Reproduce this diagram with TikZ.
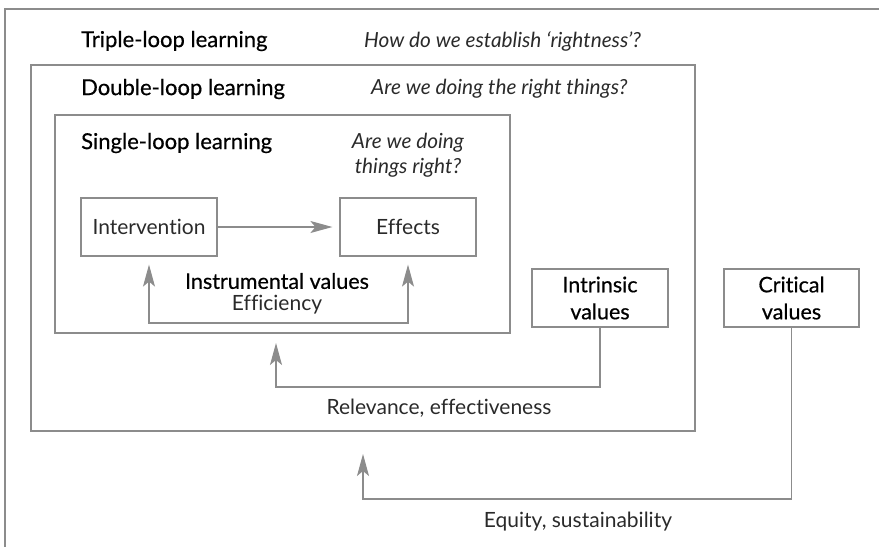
\documentclass[tikz,border=0pt]{standalone}
\usepackage{fontspec}
\setmainfont{Lato}[Ligatures=NoCommon]
\newfontfamily\medfont[FakeBold=0.5,Ligatures=NoCommon]{Lato}
\usetikzlibrary{arrows.meta}
\definecolor{linegray}{HTML}{8C8C8C}
\definecolor{txt}{HTML}{2A2A2A}
\begin{document}
\begin{tikzpicture}[x=1pt,y=-1pt,
  frame/.style={draw=linegray, line width=1.2pt},
  box/.style={draw=linegray, line width=1.2pt, minimum width=136pt, minimum height=58pt, inner sep=0pt, font=\fontsize{21}{24}\selectfont, text=txt, align=center},
  vbox/.style={box, font=\fontsize{21.5}{27}\medfont, text=black},
  head/.style={anchor=west, inner sep=0pt, font=\fontsize{22}{24}\medfont, text=black},
  ques/.style={inner sep=0pt, font=\fontsize{20.8}{25}\itshape, text=txt, align=center},
  lab/.style={inner sep=0pt, font=\fontsize{21}{25}\selectfont, text=txt, align=center},
  arr/.style={draw=linegray, line width=1.2pt, -{Stealth[length=22pt, width=12pt, inset=5pt]}},
  darr/.style={draw=linegray, line width=1.2pt, {Stealth[length=22pt, width=12pt, inset=5pt]}-{Stealth[length=22pt, width=12pt, inset=5pt]}}
]
\useasboundingbox (0,0) rectangle (879,547);
% outer (triple-loop) frame, clipped by the page
\draw[frame] (879,9) -- (5,9) -- (5,547);
% double and single loop frames
\node[frame, minimum width=664pt, minimum height=366pt, inner sep=0pt] (dbl) at (363,248) {};
\node[frame, minimum width=455pt, minimum height=218pt, inner sep=0pt] (sgl) at (282.5,224) {};
% headings
\node[head] (th) at (81,41) {Triple-loop learning};
\node[ques, anchor=west] (tq) at (364,41) {How do we establish ‘rightness’?};
\node[head] (dh) at (81,89) {Double-loop learning};
\node[ques, anchor=west] (dq) at (371,89) {Are we doing the right things?};
\node[head] (sh) at (81,143) {Single-loop learning};
\node[ques] (sq) at (408,155.5) {Are we doing\\things right?};
% boxes
\node[box] (interv) at (149,227) {Intervention};
\node[box] (eff) at (408,227) {Effects};
\node[vbox] (intr) at (600,298) {Intrinsic\\values};
\node[vbox, minimum width=135pt] (crit) at (791.5,298) {Critical\\values};
% single loop
\draw[arr, shorten >=7pt] (interv) -- (eff);
\coordinate (l1) at (0,323);
\draw[darr, shorten <=8pt, shorten >=8pt] (interv.south) -- (interv.south |- l1) -| (eff.south);
\node[lab, font=\fontsize{21.5}{24}\medfont, text=black] (instr) at (277,281) {Instrumental values};
\node[lab] (effic) at (277,305) {Efficiency};
% double loop
\coordinate (l2) at (0,387);
\coordinate (t2) at (276,333);
\draw[arr, shorten >=10pt] (intr.south) -- (intr.south |- l2) -| (t2);
\node[lab] (relev) at (439,408) {Relevance, effectiveness};
% triple loop
\coordinate (l3) at (0,499);
\coordinate (t3) at (363,431);
\draw[arr, shorten >=23pt] (crit.south) -- (crit.south |- l3) -| (t3);
\node[lab] (equity) at (578,522) {Equity, sustainability};
\end{tikzpicture}
\end{document}
